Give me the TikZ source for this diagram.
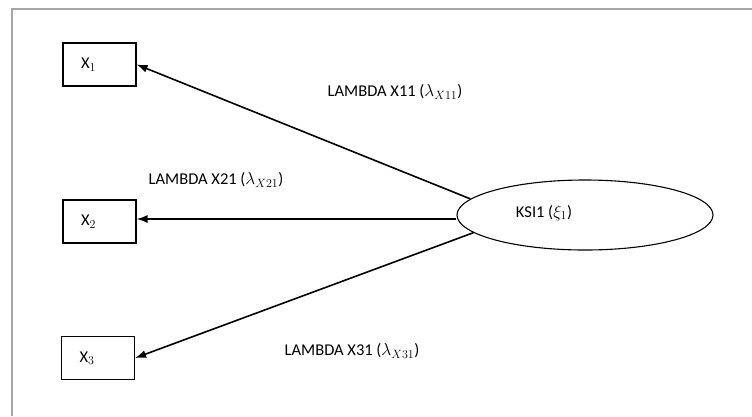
\documentclass[tikz,border=0pt]{standalone}
\usepackage{fontspec}
\setmainfont{Carlito}
\usetikzlibrary{arrows.meta,shapes.geometric}

\tikzset{
  obs/.style={draw, line width=1.1pt, minimum height=43pt, text width=37pt,
    inner xsep=18pt, align=left},
  lat/.style={draw, ellipse, line width=1.1pt, minimum width=256pt,
    minimum height=70pt, inner sep=0pt},
  load/.style={-{Latex[length=11pt,width=8pt]}, line width=1.6pt},
  lbl/.style={font=\fontsize{16.5}{19}\selectfont}
}

\begin{document}
\begin{tikzpicture}[x=1pt, y=-1pt, every node/.style={font=\fontsize{16.5}{19}\selectfont}]
\useasboundingbox (0,0) rectangle (752,416);
% frame around the model
\draw[gray!70, line width=2pt] (12,416) -- (12,9) -- (752,9);

% observed indicators
\node (x1) [obs] at (99.5,64.5) {X$_1$};
\node (x2) [obs] at (99.5,221.5) {X$_2$};
\node (x3) [obs] at (98,358) {X$_3$};

% latent variable
\node (ksi) [lat] at (585,215) {};
\node (ksilbl) at (544,213) {KSI1 ($\xi_1$)};

% loadings
\draw[load] (ksi.172) -- (x1.east);
\draw[load] (ksi.west |- 0,219) -- (x2.east |- 0,219);
\draw[load] (ksi.189) -- (x3.east);

\node (l11) [lbl] at (395,92) {LAMBDA X11 ($\lambda_{X11}$)};
\node (l21) [lbl] at (216,180) {LAMBDA X21 ($\lambda_{X21}$)};
\node (l31) [lbl] at (352,351) {LAMBDA X31 ($\lambda_{X31}$)};
\end{tikzpicture}
\end{document}
